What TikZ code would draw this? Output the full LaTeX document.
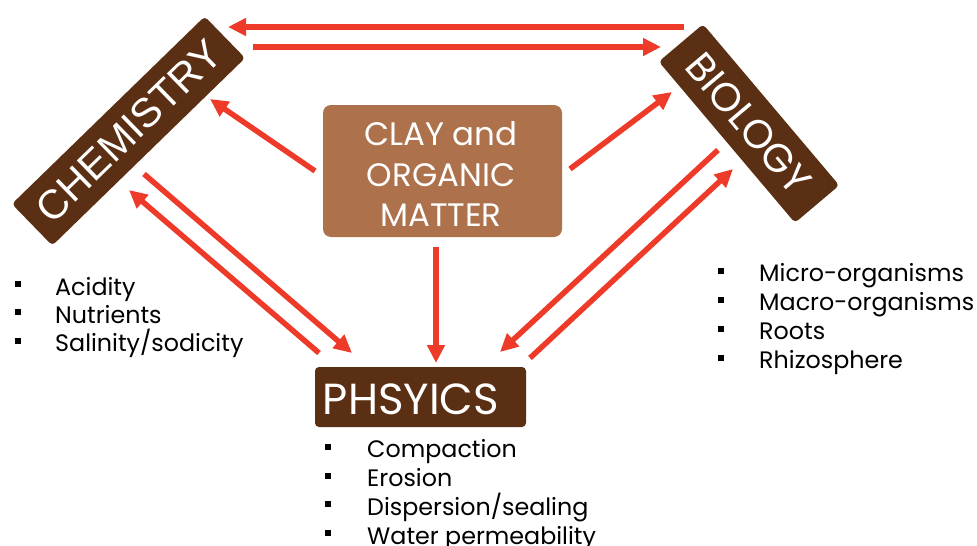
\documentclass[tikz,border=0pt]{standalone}
\usepackage{fontspec}
\setmainfont{Poppins}
\newfontfamily\arialf{Liberation Sans}
\usetikzlibrary{arrows.meta}
\definecolor{darkbrown}{HTML}{5B2F13}
\definecolor{claybrown}{HTML}{AD714B}
\definecolor{arrred}{HTML}{EE3A28}
\tikzset{
  bigbox/.style={fill=darkbrown, text=white, rounded corners=4pt, inner sep=0pt},
  arr/.style={draw=arrred, line width=5.5pt, -{Triangle[length=18pt,width=17pt]}},
  bul/.style={fill=black, minimum size=6.5pt, inner sep=0pt},
  item/.style={anchor=base west, inner sep=0pt, font=\fontsize{23.8}{24}\selectfont},
}
\begin{document}
\begin{tikzpicture}[x=1pt,y=-1pt]
\useasboundingbox (0,0) rectangle (977,546);
% main boxes
\node[bigbox, rotate=44.2, minimum width=269pt, minimum height=58pt, font=\arialf\fontsize{41}{41}\selectfont] (chem) at (128.5,131) {CHEMISTRY};
\node[bigbox, rotate=-49.8, minimum width=211pt, minimum height=58pt, font=\fontsize{40}{40}\selectfont] (bio) at (749,123.5) {BIOLOGY};
\node[fill=claybrown, rounded corners=8pt, minimum width=239pt, minimum height=132pt, inner sep=0pt] (clay) at (442.5,171) {};
\node[text=white, align=center, font=\fontsize{32.5}{40.5}\selectfont, inner sep=0pt] (claytext) at (441,174) {CLAY and\\ORGANIC\\MATTER};
\node[bigbox, minimum width=211pt, minimum height=60pt] (phys) at (420.5,397) {};
\node[text=white, font=\fontsize{43.5}{43.5}\selectfont, inner sep=0pt, anchor=base] (phystext) at (411,414) {PHSYICS};
% arrow end points
\coordinate (a1s) at (684,27);  \coordinate (a1e) at (228,27);
\coordinate (a2s) at (253,47);  \coordinate (a2e) at (661,47);
\coordinate (a3s) at (315,171); \coordinate (a3e) at (210,99);
\coordinate (a4s) at (570,169); \coordinate (a4e) at (672,92);
\coordinate (a5s) at (718,150); \coordinate (a5e) at (500,352);
\coordinate (a6s) at (530,358); \coordinate (a6e) at (733,169);
\coordinate (a7s) at (144,174); \coordinate (a7e) at (352,353);
\coordinate (a8s) at (319,353); \coordinate (a8e) at (129,190);
\coordinate (a9s) at (436,247); \coordinate (a9e) at (436,363);
\foreach \i in {1,...,9} {\draw[arr] (a\i s) -- (a\i e);}
% chemistry list
\node[bul] (cb1) at (18,284) {}; \node[item] (ct1) at (55,295) {Acidity};
\node[bul] (cb2) at (18,312) {}; \node[item] (ct2) at (55,323) {Nutrients};
\node[bul] (cb3) at (18,341) {}; \node[item] (ct3) at (55,351) {Salinity/sodicity};
% biology list
\node[bul] (bb1) at (721,271) {}; \node[item] (bt1) at (759,281) {Micro-organisms};
\node[bul] (bb2) at (721,300) {}; \node[item] (bt2) at (759,310) {Macro-organisms};
\node[bul] (bb3) at (721,329) {}; \node[item] (bt3) at (759,339) {Roots};
\node[bul] (bb4) at (721,358) {}; \node[item] (bt4) at (759,368) {Rhizosphere};
% physics list
\node[bul] (pb1) at (328,447) {}; \node[item] (pt1) at (367,457) {Compaction};
\node[bul] (pb2) at (328,476) {}; \node[item] (pt2) at (367,486) {Erosion};
\node[bul] (pb3) at (328,504) {}; \node[item] (pt3) at (367,515) {Dispersion/sealing};
\node[bul] (pb4) at (328,533) {}; \node[item] (pt4) at (367,544) {Water permeability};
\end{tikzpicture}
\end{document}
